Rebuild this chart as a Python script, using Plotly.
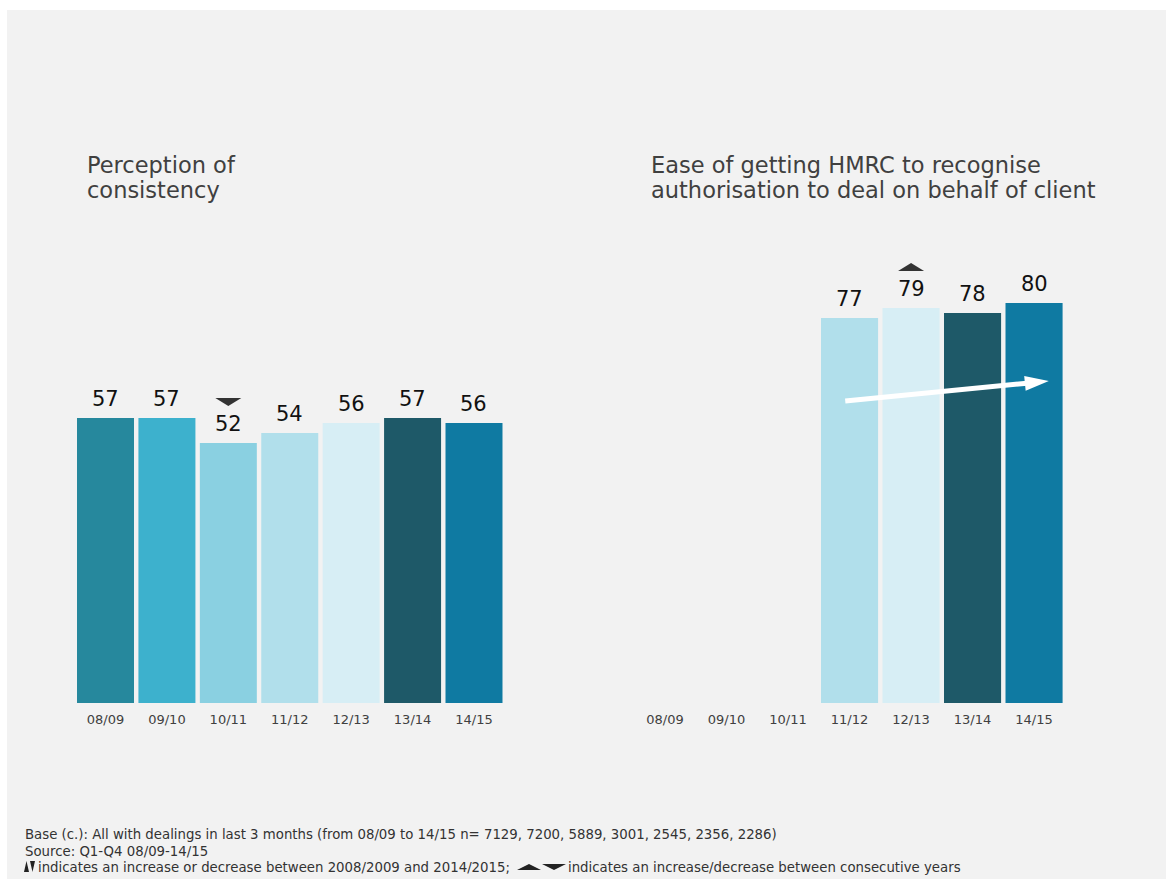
import math
import plotly.graph_objects as go

W, H = 1166, 879

# ---- data -------------------------------------------------------------
years = ["08/09", "09/10", "10/11", "11/12", "12/13", "13/14", "14/15"]
year_colors = ["#26889d", "#3db1cd", "#8ad0e1", "#b1dfeb", "#d7eef5", "#1e5968", "#0f7aa2"]

consistency = [57, 57, 52, 54, 56, 57, 56]
authorisation = [None, None, None, 77, 79, 78, 80]

# significant year-on-year changes (category -> direction)
consistency_changes = {"10/11": "down"}
authorisation_changes = {"12/13": "up"}

title_left = ["Perception of", "consistency"]
title_right = ["Ease of getting HMRC to recognise",
               "authorisation to deal on behalf of client"]

foot_base = ("Base (c.): All with dealings in last 3 months (from 08/09 to 14/15 "
             "n= 7129, 7200, 5889, 3001, 2545, 2356, 2286)")
foot_source = "Source: Q1-Q4 08/09-14/15"
foot_long = "indicates an increase or decrease between 2008/2009 and 2014/2015;"
foot_short = "indicates an increase/decrease between consecutive years"

# trend arrow on the right panel (category index, value units)
arrow_from = (2.93, 60.4)
arrow_to = (6.24, 64.4)

# ---- layout helpers (pixel -> paper) ----------------------------------
def px(x):
    return x / W


def py(y):
    return 1 - y / H


Y_MAX = 90
left_dom = [px(74.8), px(504.7)]
right_dom = [px(634.3), px(1064.8)]
y_dom = [py(703), py(253)]

FONT = "DejaVu Sans"
TXT = "#404040"

fig = go.Figure()

fig.add_trace(go.Bar(x=years, y=consistency, marker=dict(color=year_colors, line=dict(width=0)),
                     xaxis="x", yaxis="y", showlegend=False, hoverinfo="x+y"))
fig.add_trace(go.Bar(x=years, y=authorisation, marker=dict(color=year_colors, line=dict(width=0)),
                     xaxis="x2", yaxis="y2", showlegend=False, hoverinfo="x+y"))

annotations = []
shapes = []

# gray panel behind everything
shapes.append(dict(type="rect", xref="paper", yref="paper", x0=px(7), x1=1, y0=0, y1=py(10),
                   fillcolor="#f2f2f2", line=dict(width=0), layer="below"))

# value labels
for xr, yr, vals in (("x", "y", consistency), ("x2", "y2", authorisation)):
    for cat, v in zip(years, vals):
        if v is None:
            continue
        annotations.append(dict(x=cat, y=v, xref=xr, yref=yr, text=str(v), showarrow=False,
                                yanchor="bottom", yshift=5,
                                font=dict(family=FONT, size=21, color="#111111")))

# change markers (flat triangles above the labels)
def change_marker(xr, yr, cat, val, direction):
    if direction == "down":
        path = "M -13,45 L 13,45 L 0,37 Z"
    else:
        path = "M -13,37 L 13,37 L 0,45 Z"
    return dict(type="path", xref=xr, yref=yr, xsizemode="pixel", ysizemode="pixel",
                xanchor=cat, yanchor=val, path=path, fillcolor="#333333",
                line=dict(width=0))


for cat, d in consistency_changes.items():
    shapes.append(change_marker("x", "y", cat, consistency[years.index(cat)], d))
for cat, d in authorisation_changes.items():
    shapes.append(change_marker("x2", "y2", cat, authorisation[years.index(cat)], d))

# trend arrow: shaft + head
px_per_cat = (right_dom[1] - right_dom[0]) * W / len(years)
px_per_unit = (y_dom[1] - y_dom[0]) * H / Y_MAX
dxp = (arrow_to[0] - arrow_from[0]) * px_per_cat
dyp = (arrow_to[1] - arrow_from[1]) * px_per_unit
ang = math.atan2(dyp, dxp)
head_len, head_half = 24, 7.5
ca, sa = math.cos(ang), math.sin(ang)
shaft_end = (arrow_to[0] - (head_len - 2) * ca / px_per_cat,
             arrow_to[1] - (head_len - 2) * sa / px_per_unit)
shapes.append(dict(type="line", xref="x2", yref="y2", x0=arrow_from[0], y0=arrow_from[1],
                   x1=shaft_end[0], y1=shaft_end[1], line=dict(color="white", width=5)))


def rot(u, v):
    return u * ca - v * sa, u * sa + v * ca


p1 = rot(-head_len, head_half)
p2 = rot(-head_len, -head_half)
head_path = "M 0,0 L {:.2f},{:.2f} L {:.2f},{:.2f} Z".format(p1[0], p1[1], p2[0], p2[1])
shapes.append(dict(type="path", xref="x2", yref="y2", xsizemode="pixel", ysizemode="pixel",
                   xanchor=arrow_to[0], yanchor=arrow_to[1], path=head_path,
                   fillcolor="white", line=dict(width=0)))

# panel titles, one annotation per line
TITLE = dict(family=FONT, size=22.5, color=TXT)
for x0, lines in ((85, title_left), (649, title_right)):
    for i, line in enumerate(lines):
        annotations.append(dict(x=px(x0), y=py(165 + 25 * i), xref="paper", yref="paper",
                                text=line, showarrow=False, xanchor="left",
                                yanchor="middle", align="left", font=TITLE))

# footnotes
FOOT = dict(family=FONT, size=13.3, color="#333333")
annotations.append(dict(x=px(23), y=py(834), xref="paper", yref="paper", text=foot_base,
                        showarrow=False, xanchor="left", yanchor="middle", font=FOOT))
annotations.append(dict(x=px(23), y=py(851), xref="paper", yref="paper", text=foot_source,
                        showarrow=False, xanchor="left", yanchor="middle", font=FOOT))
annotations.append(dict(x=px(36), y=py(867), xref="paper", yref="paper", text=foot_long,
                        showarrow=False, xanchor="left", yanchor="middle", font=FOOT))
annotations.append(dict(x=px(566), y=py(867), xref="paper", yref="paper", text=foot_short,
                        showarrow=False, xanchor="left", yanchor="middle", font=FOOT))


def ppath(pts):
    return "M " + " L ".join("{:.5f},{:.5f}".format(px(a), py(b)) for a, b in pts) + " Z"


for pts in ([(24, 872), (29, 872), (26.5, 861)],
            [(30, 861), (35, 861), (32.5, 872)],
            [(517, 870), (541, 870), (529, 864)],
            [(542, 864), (566, 864), (554, 870)]):
    shapes.append(dict(type="path", xref="paper", yref="paper", path=ppath(pts),
                       fillcolor="#222222", line=dict(width=0)))

axis_x = dict(type="category", categoryorder="array", categoryarray=years,
              range=[-0.5, len(years) - 0.5], showgrid=False, zeroline=False, showline=False,
              ticks="", ticklabelstandoff=7,
              tickfont=dict(family=FONT, size=13, color=TXT), fixedrange=True)
axis_y = dict(range=[0, Y_MAX], domain=y_dom, visible=False, showgrid=False,
              zeroline=False, fixedrange=True)

fig.update_layout(
    width=W, height=H,
    margin=dict(l=0, r=0, t=0, b=0),
    paper_bgcolor="white", plot_bgcolor="rgba(0,0,0,0)",
    bargap=0.072,
    xaxis=dict(axis_x, domain=left_dom, anchor="y"),
    yaxis=dict(axis_y, anchor="x"),
    xaxis2=dict(axis_x, domain=right_dom, anchor="y2"),
    yaxis2=dict(axis_y, anchor="x2"),
    annotations=annotations,
    shapes=shapes,
    font=dict(family=FONT),
)

fig.write_html("out.html")
